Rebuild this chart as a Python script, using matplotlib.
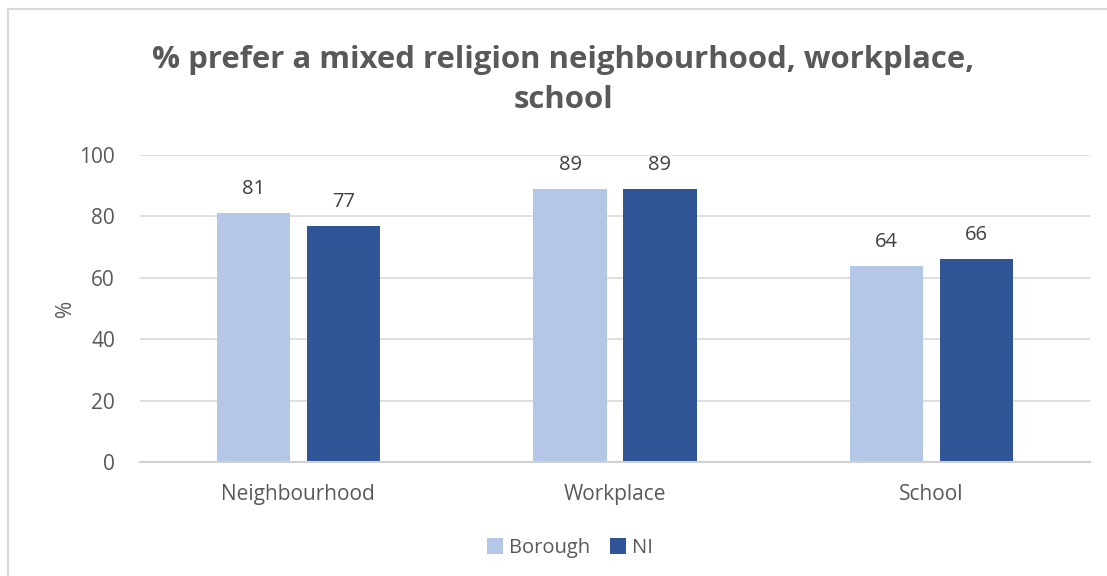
import matplotlib.pyplot as plt
import numpy as np
from matplotlib.patches import Rectangle

# data
categories = ["Neighbourhood", "Workplace", "School"]
borough = [81, 89, 64]
ni = [77, 89, 66]
series_names = ["Borough", "NI"]
yticks = [0, 20, 40, 60, 80, 100]

plt.rcParams['font.family'] = ['Open Sans', 'DejaVu Sans']

W, H = 1107, 576
fig = plt.figure(figsize=(W / 100, H / 100), dpi=100)

# chart border (only left/top visible in the crop)
fig.patches.append(Rectangle((8 / W, -0.1), 1.2, (H - 9) / H + 0.1,
                             transform=fig.transFigure, fill=False,
                             edgecolor="#d9d9d9", linewidth=1.5))

ax = fig.add_axes([140 / W, (H - 462) / H, 950 / W, (462 - 155) / H])

x = np.arange(len(categories))
w = 0.231
off = 0.142
light = "#b4c7e7"
dark = "#2f5597"
b1 = ax.bar(x - off, borough, w, color=light, label=series_names[0], zorder=3)
b2 = ax.bar(x + off, ni, w, color=dark, label=series_names[1], zorder=3)

for bars in (b1, b2):
    for r in bars:
        ax.annotate(f"{r.get_height():.0f}", (r.get_x() + r.get_width() / 2, r.get_height()),
                    xytext=(0, 10), textcoords="offset points", ha="center", va="bottom",
                    fontsize=14.5, color="#404040")

ax.set_xlim(-0.5, 2.5)
ax.set_ylim(0, 100)
ax.set_yticks(yticks)
ax.set_xticks(x)
ax.set_xticklabels(categories)
ax.tick_params(axis="both", length=0, labelsize=15, labelcolor="#595959")
ax.tick_params(axis="x", pad=16)
ax.tick_params(axis="y", pad=18)
ax.grid(axis="y", color="#d9d9d9", linewidth=1.2, zorder=0)
for s in ["top", "right", "left"]:
    ax.spines[s].set_visible(False)
ax.spines["bottom"].set_color("#d0d0d0")
ax.spines["bottom"].set_linewidth(1.5)
ax.spines["bottom"].set_zorder(4)

ax.set_ylabel("%", fontsize=15, color="#595959", labelpad=2)

fig.text(563 / W, 1 - 80 / H, "% prefer a mixed religion neighbourhood, workplace,\nschool",
         ha="center", va="center", fontsize=22.4, fontweight="bold", color="#595959",
         linespacing=1.45)

fig.legend(handles=[b1, b2], labels=series_names, loc="center", bbox_to_anchor=(570 / W, 1 - 548 / H),
           ncol=2, frameon=False, fontsize=14.5, labelcolor="#595959", handlelength=0.8,
           handleheight=0.8, handletextpad=0.3, columnspacing=1.0)

fig.savefig("out.png", dpi=100)
